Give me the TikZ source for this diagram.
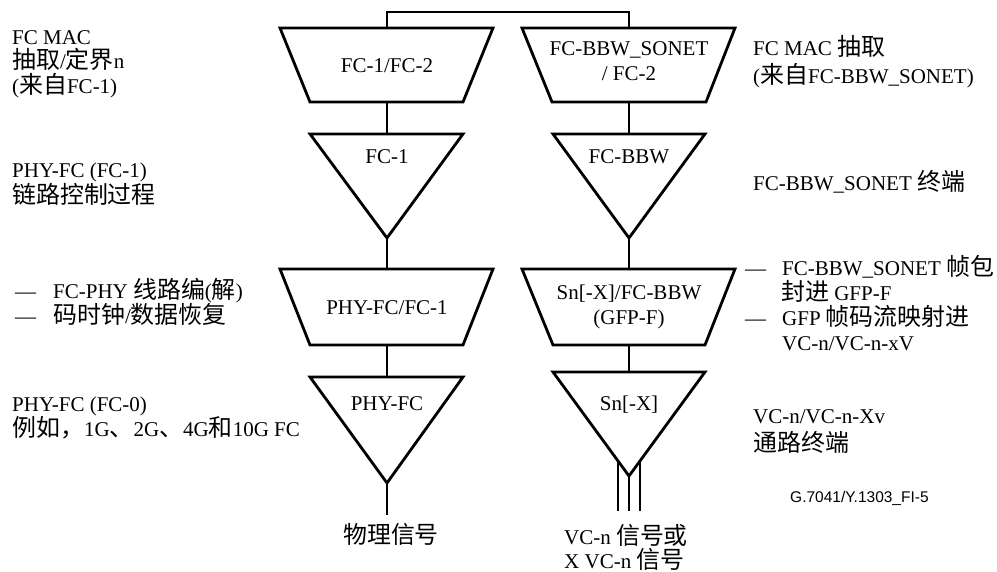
\documentclass[tikz,border=0pt]{standalone}
\usepackage{fontspec}
\setmainfont{Liberation Serif}
\newfontfamily\cjk[Scale=1.14]{Noto Sans CJK SC}
\newfontfamily\figsans{Liberation Sans}
\newcommand\zh[1]{{\cjk #1}}
\begin{document}
\begin{tikzpicture}[x=1pt,y=-1pt,
  shp/.style={line width=2.8pt, line join=miter},
  conn/.style={line width=1.1pt},
  lbl/.style={anchor=west, inner sep=0pt, font=\fontsize{21}{25}\selectfont, text height=16pt, text depth=4pt},
  inl/.style={inner sep=0pt, font=\fontsize{21}{25}\selectfont, align=center}]
\useasboundingbox (0,0) rectangle (997,572);

% anchor coordinates of the shapes
\coordinate (L1t) at (387,28);  \coordinate (L1b) at (387,102);
\coordinate (L2t) at (387,134); \coordinate (L2b) at (387,238);
\coordinate (L3t) at (387,269); \coordinate (L3b) at (387,345);
\coordinate (L4t) at (387,377); \coordinate (L4b) at (387,483);
\coordinate (R1t) at (629,28);  \coordinate (R1b) at (629,102);
\coordinate (R2t) at (629,134); \coordinate (R2b) at (629,238);
\coordinate (R3t) at (629,269); \coordinate (R3b) at (629,345);
\coordinate (R4t) at (629,372); \coordinate (R4b) at (629,476);
\coordinate (R4l) at (618,461); \coordinate (R4r) at (640,461);
\coordinate (topbar) at (500,12);
\coordinate (Lout) at (387,515);
\coordinate (Routl) at (618,511); \coordinate (Routc) at (629,511); \coordinate (Routr) at (640,511);

% connectors
\draw[conn] (L1t) |- (topbar) -| (R1t);
\draw[conn] (L1b) -- (L2t);
\draw[conn] (L2b) -- (L3t);
\draw[conn] (L3b) -- (L4t);
\draw[conn] (L4b) -- (Lout);
\draw[conn] (R1b) -- (R2t);
\draw[conn] (R2b) -- (R3t);
\draw[conn] (R3b) -- (R4t);
\draw[conn] (R4l) -- (Routl);
\draw[conn] (R4b) -- (Routc);
\draw[conn] (R4r) -- (Routr);

% left column shapes
\draw[shp] (280,28) -- (493,28) -- (463,102) -- (310,102) -- cycle;
\node[inl] (L1) at (387,66) {FC-1/FC-2};
\draw[shp] (310,134) -- (463,134) -- (387,238) -- cycle;
\node[inl] (L2) at (387,157) {FC-1};
\draw[shp] (280,269) -- (493,269) -- (463,345) -- (310,345) -- cycle;
\node[inl] (L3) at (387,308) {PHY-FC/FC-1};
\draw[shp] (310,377) -- (463,377) -- (387,483) -- cycle;
\node[inl] (L4) at (387,404) {PHY-FC};

% right column shapes
\draw[shp] (522,28) -- (735,28) -- (706,102) -- (552,102) -- cycle;
\node[inl] (R1) at (629,61) {FC-BBW\_SONET\\/ FC-2};
\draw[shp] (553,134) -- (705,134) -- (629,238) -- cycle;
\node[inl] (R2) at (629,157) {FC-BBW};
\draw[shp] (522,269) -- (735,269) -- (705,345) -- (553,345) -- cycle;
\node[inl] (R3) at (629,307) {Sn[-X]/FC-BBW\\(GFP-F)};
\draw[shp] (553,372) -- (705,372) -- (629,476) -- cycle;
\node[inl] (R4) at (629,405) {Sn[-X]};

% left labels
\node[lbl] (lA1) at (12,39) {FC MAC};
\node[lbl] (lA2) at (12,63) {\zh{抽取}/\zh{定界}n};
\node[lbl] (lA3) at (12,88) {(\zh{来自}FC-1)};
\node[lbl] (lB1) at (12,172) {PHY-FC (FC-1)};
\node[lbl] (lB2) at (12,198) {\zh{链路控制过程}};
\node[lbl] (lC1) at (15,293) {\makebox[38pt][l]{—}FC-PHY \zh{线路编}(\zh{解})};
\node[lbl] (lC2) at (15,318) {\makebox[38pt][l]{—}\zh{码时钟}/\zh{数据恢复}};
\node[lbl] (lD1) at (12,405) {PHY-FC (FC-0)};
\node[lbl] (lD2) at (12,430) {\zh{例如，}1G\zh{、}2G\zh{、}4G\zh{和}10G FC};

% right labels
\node[lbl] (rA1) at (753,50) {FC MAC \zh{抽取}};
\node[lbl] (rA2) at (753,78) {(\zh{来自}FC-BBW\_SONET)};
\node[lbl] (rB) at (753,185) {FC-BBW\_SONET \zh{终端}};
\node[lbl] (rC1) at (745,270) {\makebox[37pt][l]{—}FC-BBW\_SONET \zh{帧包}};
\node[lbl] (rC2) at (781,295) {\zh{封进} GFP-F};
\node[lbl] (rC3) at (745,320) {\makebox[37pt][l]{—}GFP \zh{帧码流映射进}};
\node[lbl] (rC4) at (782,345) {VC-n/VC-n-xV};
\node[lbl] (rD1) at (753,417) {VC-n/VC-n-Xv};
\node[lbl] (rD2) at (753,445) {\zh{通路终端}};
\node[anchor=west, inner sep=0pt, font=\figsans\fontsize{15.5}{18}\selectfont] (fig) at (790,498) {G.7041/Y.1303\_FI-5};

% bottom signals
\node[lbl, anchor=center] (phys) at (391,537) {\zh{物理信号}};
\node[lbl] (vc1) at (564,538) {VC-n \zh{信号或}};
\node[lbl] (vc2) at (564,562) {X VC-n \zh{信号}};
\end{tikzpicture}
\end{document}
